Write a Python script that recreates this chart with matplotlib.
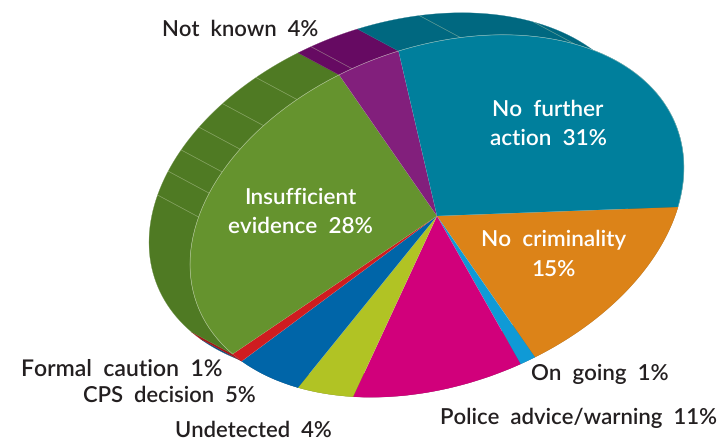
import numpy as np
import matplotlib
matplotlib.use('Agg')
import matplotlib.pyplot as plt
from matplotlib.transforms import Affine2D

names = ['No  criminality', 'On  going', 'Police  advice/warning', 'Undetected', 'CPS  decision',
         'Formal  caution', 'Insufficient  evidence', 'Not  known', 'No  further  action']
values = [15, 1, 11, 4, 5, 1, 28, 4, 31]
top_colors = ['#DC8318', '#0F9AD6', '#D1007B', '#B1C324', '#0065A8', '#CF1C20', '#65932E', '#821F7C', '#007F9C']
side_colors = ['#A8630F', '#14759F', '#9C005C', '#85921B', '#004C80', '#A3161A', '#4F7A23', '#660A62', '#006880']
# thin pale lines across the side wall, in percent round the pie
facets = [50.7, 52.8, 54.7, 56.8, 59.1, 61.9, 65.9, 73, 80.9]

plt.rcParams['font.family'] = ['Lato', 'DejaVu Sans']
plt.rcParams['text.hinting'] = 'no_hinting'

fig = plt.figure(figsize=(7.19, 4.4), dpi=100)
ax = fig.add_axes([0, 0, 1, 1])

# the pie is a flat disc pushed through a shear/squash, plus a shift for the back wall
center = np.array([437.0, 216.0])
u = np.array([241.0, -9.0])
v = np.array([-54.0, 181.0])
depth = np.array([-41.0, -22.0])


def rim(pct):
    a = 2 * np.pi * np.asarray(pct) / 100.0
    return center + np.outer(np.cos(a), u) + np.outer(np.sin(a), v)


# side walls first, the top face goes over them
cum = np.concatenate([[0], np.cumsum(values)])
for i in range(len(values)):
    arc = rim(np.linspace(cum[i], cum[i + 1], 60))
    wall = np.vstack([arc, (arc + depth)[::-1]])
    ax.fill(wall[:, 0], wall[:, 1], color=side_colors[i], lw=0.2, zorder=1)

for f in facets:
    p = rim([f])[0]
    ax.plot([p[0], p[0] + depth[0]], [p[1], p[1] + depth[1]], color='#C9D6B0', lw=0.4, alpha=0.6, zorder=2)

wedges, _ = ax.pie(values, colors=top_colors, startangle=0, counterclock=False,
                   wedgeprops={'linewidth': 0.2, 'edgecolor': 'none'})
flat = Affine2D(np.array([[u[0], -v[0], center[0]],
                          [u[1], -v[1], center[1]],
                          [0, 0, 1]]))
for w in wedges:
    w.set_transform(flat + ax.transData)
    w.set_zorder(3)

# pale edge along the back of the top face
edge = rim(np.linspace(cum[6], 100, 200))
ax.plot(edge[:, 0], edge[:, 1], color='#DDE6D0', lw=0.4, alpha=0.6, zorder=4)

ax.set_aspect('auto')
ax.set_xlim(0, 719)
ax.set_ylim(440, 0)
ax.axis('off')

white = {'color': 'white', 'fontsize': 16.2, 'ha': 'center', 'va': 'center', 'zorder': 5,
         'fontweight': 'semibold', 'linespacing': 1.56}
ax.text(548, 124, 'No  further\naction  %d%%' % values[8], **white)
ax.text(300, 212, 'Insufficient\nevidence  %d%%' % values[6], **white)
ax.text(554, 255, 'No  criminality\n%d%%' % values[0], **white)

dark = {'color': '#231F20', 'va': 'center', 'zorder': 5, 'fontweight': 'semibold'}
ax.text(162, 30, '%s  %d%%' % (names[7], values[7]), fontsize=15.8, **dark)
ax.text(531, 374, '%s  %d%%' % (names[1], values[1]), fontsize=16, **dark)
ax.text(717, 418, '%s  %d%%' % (names[2], values[2]), fontsize=15.9, ha='right', **dark)
ax.text(332, 431, '%s  %d%%' % (names[3], values[3]), fontsize=15.8, ha='right', **dark)
ax.text(256, 396, '%s  %d%%' % (names[4], values[4]), fontsize=15.8, ha='right', **dark)
ax.text(222, 369, '%s  %d%%' % (names[5], values[5]), fontsize=16.6, ha='right', **dark)

fig.savefig('out.png', dpi=100, facecolor='white')
